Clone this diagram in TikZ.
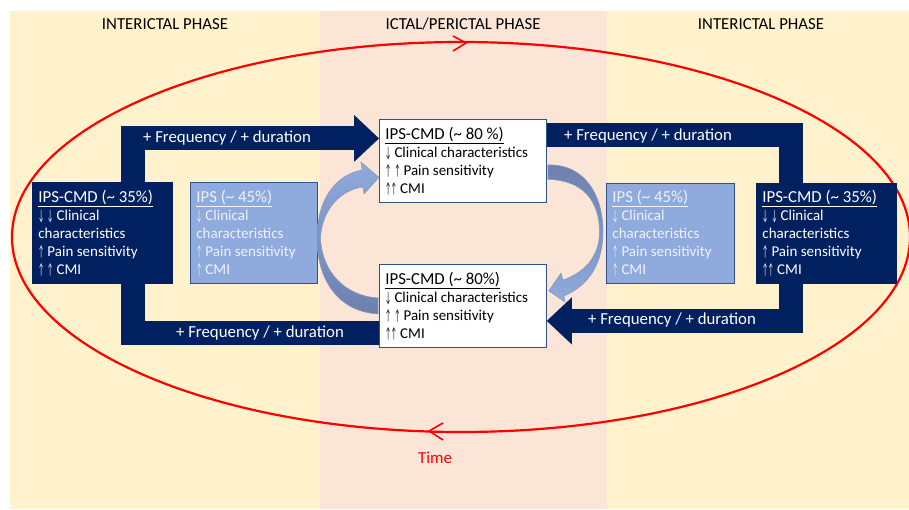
\documentclass[tikz,border=0pt]{standalone}
\usepackage{fontspec}
\usepackage{graphicx}
\setmainfont{Carlito}
\usetikzlibrary{arrows.meta,calc}
\definecolor{navy}{HTML}{002060}
\definecolor{phaseyellow}{HTML}{FFF2CC}
\definecolor{phasepink}{HTML}{FBE5D6}
\definecolor{ipsblue}{HTML}{8FAADC}
\definecolor{ipsedge}{HTML}{2F528F}
\definecolor{ipstext}{HTML}{EEF2FA}
\definecolor{curvedark}{HTML}{6C80AC}
\newcommand{\arrup}{\scalebox{0.42}[1]{↑}}
\newcommand{\arrdn}{\scalebox{0.42}[1]{↓}}
\newcommand{\cardtitle}[1]{{\fontsize{16.8}{18}\selectfont\underline{#1}}}
\begin{document}
\begin{tikzpicture}[x=1pt,y=-1pt,font=\fontsize{16.8}{18}\selectfont,
  box/.style={anchor=north west,align=flush left,inner xsep=6pt,inner ysep=0pt,line width=0.8pt,font=\fontsize{15}{18}\selectfont},
  darkbox/.style={box,draw=navy,fill=navy,text=white,minimum width=140pt,text width=128pt},
  ipsbox/.style={box,draw=ipsedge,fill=ipsblue,text=ipstext,minimum width=127pt,text width=115pt},
  ictalbox/.style={box,draw=ipsedge,fill=white,text=black,minimum width=167pt,minimum height=83pt,text width=155pt},
  band/.style={draw=navy,line width=24pt},
  bandarrow/.style={band,-{Triangle[length=25pt,width=47pt,line width=0pt]}},
  bandlabel/.style={text=white},
  crescent/.style={draw=curvedark!80,line width=0.5pt},
  timeline/.style={draw=red,line width=2.2pt}]
\useasboundingbox (0,0) rectangle (909,509);
\fill[phaseyellow] (10,11) rectangle (909,509);
\fill[phasepink] (320,11) rectangle (607,509);
\node (PhaseLeft) at (165,24) {INTERICTAL PHASE};
\node (PhaseMid) at (463,24) {ICTAL/PERICTAL PHASE};
\node (PhaseRight) at (761,24) {INTERICTAL PHASE};

\draw[timeline] (461,237) ellipse [x radius=449pt,y radius=195pt];
\draw[timeline,line width=1.6pt] (453,36) -- (466,43) -- (453,51);
\draw[timeline,line width=1.6pt] (443,423) -- (429,431) -- (443,440);
\node[text=red] (Time) at (435,458) {Time};

\node[darkbox,minimum height=101pt] (CmdLeft) at (32,182) {\cardtitle{IPS-CMD (\textasciitilde{} 35\%)}\\\arrdn{} \arrdn{} Clinical\\characteristics\\\arrup{} Pain sensitivity\\\arrup{} \arrup{} CMI};
\node[ipsbox,minimum height=101pt] (IpsLeft) at (190,182) {\cardtitle{IPS (\textasciitilde{} 45\%)}\\\arrdn{} Clinical\\characteristics\\\arrup{} Pain sensitivity\\\arrup{} CMI};
\node[ictalbox] (CmdTop) at (379,119) {\cardtitle{IPS-CMD (\textasciitilde{} 80 \%)}\\\arrdn{} Clinical characteristics\\\arrup{} \arrup{} Pain sensitivity\\\arrup\arrup{} CMI};
\node[ictalbox] (CmdBottom) at (379,264) {\cardtitle{IPS-CMD (\textasciitilde{} 80\%)}\\\arrdn{} Clinical characteristics\\\arrup{} \arrup{} Pain sensitivity\\\arrup\arrup{} CMI};
\node[ipsbox,minimum width=128pt,text width=116pt,minimum height=100pt] (IpsRight) at (606,183) {\cardtitle{IPS (\textasciitilde{} 45\%)}\\\arrdn{} Clinical\\characteristics\\\arrup{} Pain sensitivity\\\arrup{} CMI};
\node[darkbox,minimum height=100pt] (CmdRight) at (756,183) {\cardtitle{IPS-CMD (\textasciitilde{} 35\%)}\\\arrdn{} \arrdn{} Clinical\\characteristics\\\arrup{} Pain sensitivity\\\arrup\arrup{} CMI};

\draw[bandarrow] ($(CmdLeft.north)+(31,0)$) |- ($(CmdTop.west)+(0,-22.5)$);
\draw[band] ($(CmdTop.east)+(0,-25.5)$) -| ($(CmdRight.north)+(-35,0)$);
\draw[bandarrow] ($(CmdRight.south)+(-35,0)$) |- ($(CmdBottom.east)+(0,15)$);
\draw[band] ($(CmdBottom.west)+(0,27.5)$) -| ($(CmdLeft.south)+(31,0)$);
\node[bandlabel] (FreqA) at (227,138) {+ Frequency / + duration};
\node[bandlabel] (FreqB) at (648,136) {+ Frequency / + duration};
\node[bandlabel] (FreqC) at (672,320) {+ Frequency / + duration};
\node[bandlabel] (FreqD) at (260,333) {+ Frequency / + duration};

\shade[crescent,top color=ipsblue,bottom color=curvedark] ($(CmdBottom.west)+(-1,8)$) .. controls (340,312) and (317,282) .. (317,238)
  .. controls (317,200) and (335,175) .. (362,170) -- (361,162) -- ($(CmdTop.west)+(0,16.5)$) -- (364,194) -- (363,187)
  .. controls (340,190) and (322,210) .. (320.5,238) .. controls (322,272) and (345,296) .. ($(CmdBottom.west)+(-1,-8)$) -- cycle;
\shade[crescent,top color=curvedark,bottom color=ipsblue] ($(CmdTop.east)+(1,4)$) .. controls (585,164) and (603,195) .. (603,232)
  .. controls (603,262) and (590,285) .. (564,296) -- (565,302) -- ($(CmdBottom.east)+(2,-15)$) -- (561,273) -- (563,280)
  .. controls (586,272) and (599.5,255) .. (599.5,232) .. controls (599.5,200) and (582,180) .. ($(CmdTop.east)+(1,18.5)$) -- cycle;
\end{tikzpicture}
\end{document}
